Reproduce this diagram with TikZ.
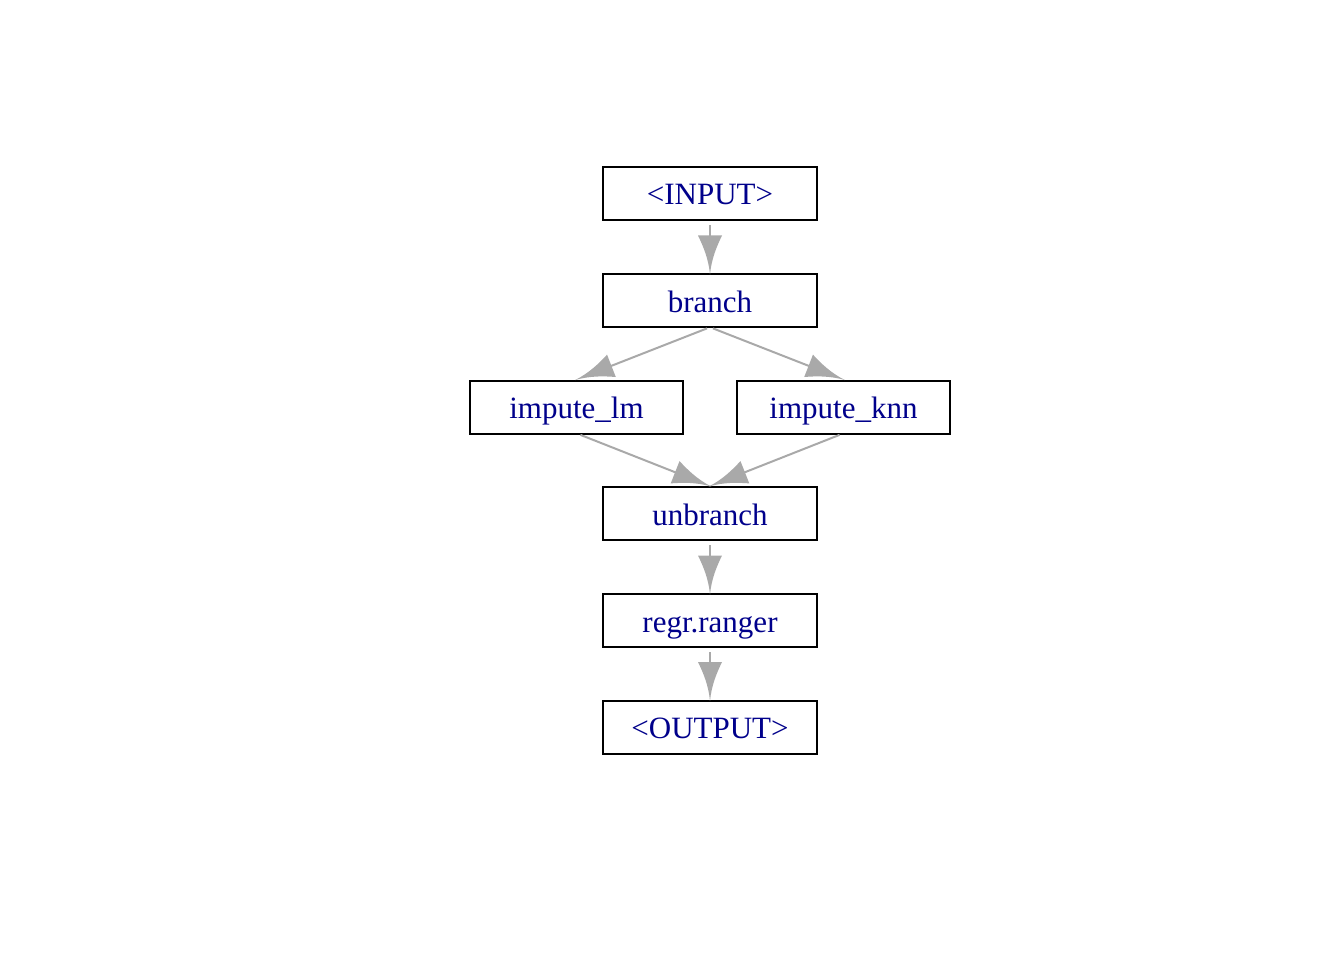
\documentclass[tikz,border=0pt]{standalone}
\usepackage{fontspec}
\setmainfont{Liberation Serif}
\usetikzlibrary{arrows.meta}
\definecolor{edgegray}{HTML}{A9A9A9}
\definecolor{labelblue}{HTML}{00008B}
\pgfdeclarearrow{
  name = IG,
  parameters = {\the\pgfarrowlength,\the\pgfarrowwidth},
  setup code = {
    \pgfarrowssettipend{0pt}
    \pgfarrowssetlineend{-0.5\pgfarrowlength}
    \pgfarrowssetbackend{-\pgfarrowlength}
    \pgfarrowssetvisualbackend{-\pgfarrowlength}
    \pgfarrowshullpoint{0pt}{0pt}
    \pgfarrowsupperhullpoint{-\pgfarrowlength}{0.5\pgfarrowwidth}
    \pgfarrowssavethe\pgfarrowlength
    \pgfarrowssavethe\pgfarrowwidth
  },
  drawing code = {
    \pgfpathmoveto{\pgfqpoint{0pt}{0pt}}
    \pgfpathcurveto{\pgfqpoint{-0.4\pgfarrowlength}{0.06\pgfarrowwidth}}{\pgfqpoint{-0.72\pgfarrowlength}{0.28\pgfarrowwidth}}{\pgfqpoint{-\pgfarrowlength}{0.5\pgfarrowwidth}}
    \pgfpathlineto{\pgfqpoint{-\pgfarrowlength}{-0.5\pgfarrowwidth}}
    \pgfpathcurveto{\pgfqpoint{-0.72\pgfarrowlength}{-0.28\pgfarrowwidth}}{\pgfqpoint{-0.4\pgfarrowlength}{-0.06\pgfarrowwidth}}{\pgfqpoint{0pt}{0pt}}
    \pgfpathclose
    \pgfusepathqfill
  },
  defaults = {length = 39pt, width = 24pt}
}
\tikzset{
  opbox/.style={draw=black, line width=2pt, fill=white, inner sep=0pt,
    minimum width=214pt, minimum height=53pt, text height=25pt, text depth=2pt,
    text=labelblue, font=\fontsize{31pt}{36pt}\selectfont},
  flow/.style={draw=edgegray, line width=2pt, -{IG[length=39pt,width=24pt]}, shorten >=-1.5pt}
}
\begin{document}
\begin{tikzpicture}[x=1pt, y=-1pt]
\useasboundingbox (0,0) rectangle (1344,960);
\node[opbox] (in) at (710,193.5) {<INPUT>};
\node[opbox] (br) at (710,300.5) {branch};
\node[opbox, minimum width=213pt] (lm) at (576.5,407) {impute\_lm};
\node[opbox, minimum width=213pt] (knn) at (843.5,407) {impute\_knn};
\node[opbox] (ub) at (710,513.5) {unbranch};
\node[opbox] (rg) at (710,620.5) {regr.ranger};
\node[opbox] (out) at (710,727) {<OUTPUT>};
\draw[flow, shorten <=4pt] (in.south) -- (br.north);
\draw[flow, shorten <=1pt] ([xshift=-2pt]br.south) -- (lm.north);
\draw[flow, shorten <=1pt] ([xshift=2pt]br.south) -- (knn.north);
\draw[flow, shorten <=1pt] ([xshift=3pt]lm.south) -- (ub.north);
\draw[flow, shorten <=1pt] ([xshift=-3pt]knn.south) -- (ub.north);
\draw[flow, shorten <=4pt] (ub.south) -- (rg.north);
\draw[flow, shorten <=4pt] (rg.south) -- (out.north);
\end{tikzpicture}
\end{document}
